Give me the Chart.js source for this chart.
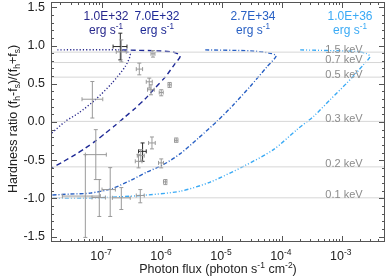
<!DOCTYPE html>
<html><head><meta charset="utf-8">
<script src="https://cdn.jsdelivr.net/npm/chart.js@4.4.1/dist/chart.umd.min.js"></script>
<style>html,body{margin:0;padding:0;background:#fff;}canvas{display:block}</style>
</head><body>
<canvas id="c" width="390" height="279"></canvas>
<script>
// ---- axis ranges ----
const xMin = 1.41e-8, xMax = 5.25e-3, yMin = -1.57, yMax = 1.57;
const yTickVals = [-1.5, -1.0, -0.5, 0.0, 0.5, 1.0, 1.5];
const yTickLabels = ['-1.5', '-1.0', '-0.5', '0.0', '0.5', '1.0', '1.5'];
const xTickExps = [-7, -6, -5, -4, -3];

// ---- luminosity curves ----
const lumLabels = ['1.0E+32', '7.0E+32', '2.7E+34', '1.0E+36'];
const curve1X = [1.80e-8, 1.87e-7, 2.54e-7, 2.96e-7, 2.44e-7, 1.47e-7, 7.73e-8, 4.07e-8, 2.44e-8, 1.46e-8];
const curve1Y = [0.944, 0.944, 0.924, 0.879, 0.726, 0.509, 0.291, 0.117, 0.008, -0.144];
const curve2X = [2.18e-7, 1.49e-6, 2.02e-6, 1.60e-6, 1.14e-6, 7.73e-7, 5.27e-7, 3.59e-7, 2.44e-7, 1.67e-7, 1.14e-7, 7.73e-8, 5.27e-8, 3.59e-8, 2.18e-8, 1.43e-8];
const curve2Y = [0.944, 0.918, 0.866, 0.748, 0.591, 0.448, 0.304, 0.180, 0.069, -0.042, -0.146, -0.251, -0.342, -0.427, -0.525, -0.603];
const curve3X = [5.27e-6, 2.96e-5, 5.92e-5, 8.04e-5, 5.69e-5, 2.96e-5, 1.56e-5, 8.26e-6, 4.07e-6, 2.02e-6, 1.06e-6, 5.62e-7, 3.20e-7, 1.47e-7, 6.38e-8, 2.96e-8, 1.43e-8];
const curve3Y = [0.944, 0.931, 0.905, 0.866, 0.726, 0.465, 0.226, 0.008, -0.209, -0.414, -0.557, -0.655, -0.753, -0.871, -0.930, -0.943, -0.956];
const curve4X = [2.02e-4, 1.78e-3, 2.54e-3, 2.96e-3, 2.29e-3, 1.21e-3, 6.38e-4, 3.37e-4, 1.78e-4, 7.24e-5, 2.29e-5, 6.38e-6, 2.02e-6, 4.35e-7, 7.73e-8, 1.43e-8];
const curve4Y = [0.944, 0.922, 0.898, 0.856, 0.748, 0.509, 0.291, 0.073, -0.100, -0.362, -0.580, -0.786, -0.906, -0.962, -0.992, -0.997];

// ---- temperature reference lines ----
const keVLabels = ['1.5 keV', '0.7 keV', '0.5 keV', '0.3 keV', '0.2 keV', '0.1 keV'];
const keVHR = [0.914, 0.778, 0.587, 0.008, -0.587, -0.992];
const keVLabelX = 5.3e-4;

// ---- observed sources ----
const ptX   = [2.02e-7, 2.10e-7, 6.90e-8, 7.08e-7, 4.19e-7, 6.14e-7, 6.56e-7, 9.73e-7, 1.34e-6, 6.81e-7, 1.73e-6, 4.75e-7, 4.07e-7, 4.43e-7, 9.73e-7, 1.14e-6, 4.35e-7, 5.27e-8, 7.88e-8, 9.01e-8, 1.37e-7, 2.10e-7];
const ptXlo = [1.53e-7, 1.73e-7, 4.64e-8, 6.56e-7, 3.73e-7, 5.47e-7, 5.75e-7, 9.01e-7, 1.26e-6, 5.98e-7, 1.62e-6, 4.07e-7, 3.59e-7, 3.88e-7, 8.77e-7, 1.06e-6, 3.73e-7, 2.18e-8, 5.27e-8, 6.81e-8, 1.00e-7, 1.49e-7];
const ptXhi = [2.61e-7, 2.54e-7, 1.03e-7, 7.64e-7, 4.75e-7, 6.89e-7, 7.45e-7, 1.05e-6, 1.43e-6, 7.73e-7, 1.85e-6, 5.47e-7, 4.64e-7, 5.07e-7, 1.06e-6, 1.21e-6, 5.07e-7, 9.37e-8, 1.18e-7, 1.14e-7, 1.67e-7, 2.96e-7];
const ptY   = [0.987, 0.918, 0.298, 0.892, 0.692, 0.526, 0.422, 0.386, 0.487, -0.274, -0.240, -0.384, -0.514, -0.440, -0.535, -0.783, -0.962, -0.969, -0.427, -0.988, -0.884, -0.992];
const ptYlo = [0.813, 0.787, 0.052, 0.849, 0.617, 0.444, 0.356, 0.343, 0.452, -0.352, -0.266, -0.514, -0.600, -0.518, -0.600, -0.819, -1.057, -1.510, -0.753, -1.236, -1.236, -1.145];
const ptYhi = [1.162, 1.074, 0.530, 0.935, 0.770, 0.574, 0.487, 0.422, 0.517, -0.196, -0.209, -0.274, -0.427, -0.362, -0.483, -0.753, -0.884, -0.427, -0.100, -0.753, -0.597, -0.858];
const ptDark = [1, 0, 0, 0, 0, 0, 0, 0, 0, 0, 0, 1, 0, 0, 0, 0, 0, 0, 0, 0, 0, 0];

const FONT = '"Liberation Sans", Arial, Helvetica, sans-serif';
const lumColors = ['#28288c', '#1f2a96', '#2860c4', '#3aaaf5'];
const lumDash = [[1.2, 2], [5, 3.5], [4, 2, 1, 2], [4, 2, 1, 2, 1, 2]];

const toPts = (xs, ys) => xs.map((x, i) => ({x, y: ys[i]}));

const datasets = [];
keVHR.forEach(v => datasets.push({
  data: [{x: xMin, y: v}, {x: xMax, y: v}], showLine: true, pointRadius: 0,
  borderColor: '#d6d6d6', borderWidth: 1, fill: false
}));
[[curve1X, curve1Y], [curve2X, curve2Y], [curve3X, curve3Y], [curve4X, curve4Y]].forEach((c, i) => datasets.push({
  data: toPts(c[0], c[1]), showLine: true, pointRadius: 0, tension: 0.25,
  borderColor: lumColors[i], borderWidth: 1.4, borderDash: lumDash[i], fill: false
}));
datasets.push({data: toPts(ptX, ptY), pointRadius: 0, showLine: false});

function drawRich(ctx, parts, x, y, align, size) {
  const sub = size * 0.68;
  let w = 0;
  parts.forEach(p => { ctx.font = (p[1] ? sub : size) + 'px ' + FONT; w += ctx.measureText(p[0]).width; });
  let cx = align === 'center' ? x - w / 2 : (align === 'right' ? x - w : x);
  ctx.textAlign = 'left';
  ctx.textBaseline = 'alphabetic';
  parts.forEach(p => {
    ctx.font = (p[1] ? sub : size) + 'px ' + FONT;
    const dy = p[1] === 1 ? -size * 0.42 : (p[1] === 2 ? size * 0.25 : 0);
    ctx.fillText(p[0], cx, y + dy);
    cx += ctx.measureText(p[0]).width;
  });
}

const decor = {
  id: 'decor',
  afterDatasetsDraw(chart) {
    const ctx = chart.ctx, xs = chart.scales.x, ys = chart.scales.y;
    ctx.save();
    // keV labels
    ctx.fillStyle = '#8c8c8c';
    ctx.font = '11px ' + FONT;
    ctx.textAlign = 'left';
    ctx.textBaseline = 'alphabetic';
    keVHR.forEach((v, i) => ctx.fillText(keVLabels[i], xs.getPixelForValue(keVLabelX), ys.getPixelForValue(v) + 0.5));
    // error bars
    ptX.forEach((x, i) => {
      ctx.strokeStyle = ptDark[i] ? '#2a2a2a' : '#9a9a9a';
      ctx.lineWidth = 1;
      const px = xs.getPixelForValue(x), py = ys.getPixelForValue(ptY[i]);
      const x0 = xs.getPixelForValue(ptXlo[i]), x1 = xs.getPixelForValue(ptXhi[i]);
      const y0 = ys.getPixelForValue(ptYlo[i]), y1 = ys.getPixelForValue(ptYhi[i]);
      const c = 2;
      ctx.beginPath();
      ctx.moveTo(x0, py); ctx.lineTo(x1, py);
      ctx.moveTo(x0, py - c); ctx.lineTo(x0, py + c);
      ctx.moveTo(x1, py - c); ctx.lineTo(x1, py + c);
      ctx.moveTo(px, y0); ctx.lineTo(px, y1);
      ctx.moveTo(px - c, y0); ctx.lineTo(px + c, y0);
      ctx.moveTo(px - c, y1); ctx.lineTo(px + c, y1);
      ctx.stroke();
    });
    ctx.restore();
  },
  afterDraw(chart) {
    const ctx = chart.ctx, xs = chart.scales.x, ys = chart.scales.y, a = chart.chartArea;
    ctx.save();
    ctx.strokeStyle = '#555';
    ctx.lineWidth = 1;
    ctx.strokeRect(Math.round(a.left) + 0.5, Math.round(a.top) + 0.5, Math.round(a.right - a.left) - 1, Math.round(a.bottom - a.top) - 1);
    // y ticks
    ctx.beginPath();
    for (let k = -15; k <= 15; k++) {
      const v = k / 10, py = Math.round(ys.getPixelForValue(v)) + 0.5;
      if (py < a.top || py > a.bottom) continue;
      const len = (k % 5 === 0) ? 6 : 3;
      ctx.moveTo(a.left, py); ctx.lineTo(a.left + len, py);
      ctx.moveTo(a.right, py); ctx.lineTo(a.right - len, py);
    }
    // x ticks
    for (let e = -8; e <= -3; e++) {
      for (let m = 1; m <= 9; m++) {
        const v = m * Math.pow(10, e);
        if (v < xMin || v > xMax) continue;
        const px = Math.round(xs.getPixelForValue(v)) + 0.5;
        const len = m === 1 ? 6 : 3;
        ctx.moveTo(px, a.bottom); ctx.lineTo(px, a.bottom - len);
        ctx.moveTo(px, a.top); ctx.lineTo(px, a.top + len);
      }
    }
    ctx.stroke();
    // tick labels
    ctx.fillStyle = '#222';
    ctx.font = '12.5px ' + FONT;
    ctx.textAlign = 'right';
    ctx.textBaseline = 'middle';
    yTickVals.forEach((v, i) => ctx.fillText(yTickLabels[i], a.left - 6, ys.getPixelForValue(v)));
    xTickExps.forEach(e => drawRich(ctx, [['10', 0], [String(e), 1]], xs.getPixelForValue(Math.pow(10, e)) - 1, a.bottom + 18, 'center', 12.5));
    // axis titles
    drawRich(ctx, [['Photon flux (photon s', 0], ['-1', 1], [' cm', 0], ['-2', 1], [')', 0]], (a.left + a.right) / 2, 273, 'center', 12.5);
    ctx.save();
    ctx.translate(17, (a.top + a.bottom) / 2 - 3);
    ctx.rotate(-Math.PI / 2);
    drawRich(ctx, [['Hardness ratio (f', 0], ['h', 2], ['-f', 0], ['s', 2], [')/(f', 0], ['h', 2], ['+f', 0], ['s', 2], [')', 0]], 0, 0, 'center', 12.5);
    ctx.restore();
    // luminosity labels
    const lx = [106, 157, 253, 350];
    lumLabels.forEach((t, i) => {
      ctx.fillStyle = lumColors[i];
      drawRich(ctx, [[t, 0]], lx[i], 20, 'center', 12);
      drawRich(ctx, [['erg s', 0], ['-1', 1]], lx[i], 34, 'center', 12);
    });
    ctx.restore();
  }
};

new Chart(document.getElementById('c'), {
  type: 'scatter',
  data: {datasets},
  options: {
    responsive: false, animation: false, devicePixelRatio: 1,
    layout: {padding: {left: 51, right: 5, top: 2, bottom: 37}},
    plugins: {legend: {display: false}, tooltip: {enabled: false}},
    scales: {
      x: {type: 'logarithmic', min: xMin, max: xMax, display: false},
      y: {type: 'linear', min: yMin, max: yMax, display: false}
    }
  },
  plugins: [decor]
});
</script>
</body></html>
